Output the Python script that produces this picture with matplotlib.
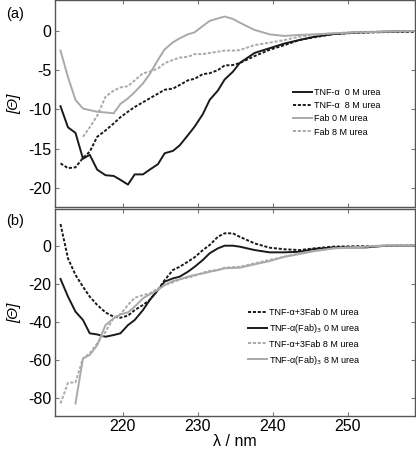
import matplotlib
matplotlib.use("Agg")
import matplotlib.pyplot as plt

plt.rcParams['font.family'] = ['Liberation Sans', 'DejaVu Sans']
plt.rcParams['axes.unicode_minus'] = False

# ---- data: panel (a) ----
lam_a = [211.7, 212.7, 213.7, 214.7, 215.6, 216.6, 217.7, 218.8, 219.7, 220.7,
         221.6, 222.7, 223.6, 224.7, 225.6, 226.7, 227.6, 228.7, 229.6, 230.7,
         231.6, 232.7, 233.6, 234.7, 235.6, 237.6, 239.6, 241.6, 243.6, 245.6,
         248.1, 250.8, 254.8, 259.0]
tnf_0m = [-9.6, -12.3, -13.0, -16.3, -15.8, -17.7, -18.4, -18.5, -19.0, -19.6,
          -18.3, -18.3, -17.7, -17.0, -15.6, -15.3, -14.6, -13.3, -12.2, -10.6,
          -8.8, -7.6, -6.2, -5.2, -4.1, -2.8, -2.2, -1.6, -1.15, -0.73,
          -0.4, -0.2, -0.1, 0.0]
tnf_8m = [-16.9, -17.5, -17.4, -16.2, -15.4, -13.5, -12.7, -11.8, -11.0, -10.3,
          -9.7, -9.1, -8.6, -8.0, -7.5, -7.35, -6.9, -6.3, -6.1, -5.5,
          -5.4, -5.0, -4.4, -4.35, -4.1, -3.2, -2.4, -1.8, -1.15, -0.8,
          -0.4, -0.25, -0.15, -0.1]
fab_0m = [-2.5, -5.9, -8.8, -9.9, -10.1, -10.3, -10.4, -10.5, -9.3, -8.6,
          -7.8, -6.7, -5.5, -3.7, -2.35, -1.45, -0.94, -0.43, -0.17, 0.64,
          1.28, 1.6, 1.84, 1.54, 1.07, 0.13, -0.43, -0.64, -0.5, -0.43,
          -0.3, -0.2, -0.1, 0.0]
lam_a_fab8 = lam_a[3:]
fab_8m = [-13.5, -12.3, -10.8, -8.4, -7.6, -7.2, -7.05,
          -6.3, -5.4, -5.2, -4.8, -4.1, -3.7, -3.4, -3.3, -2.95, -2.95,
          -2.8, -2.65, -2.5, -2.5, -2.45, -1.8, -1.5, -1.15, -0.73, -0.5,
          -0.3, -0.15, -0.05, 0.0]

# ---- data: panel (b) ----
lam_b = [211.7, 212.7, 213.7, 214.7, 215.6, 216.6, 217.7, 218.8, 219.7, 220.7,
         221.6, 222.7, 223.6, 224.7, 225.6, 226.7, 227.6, 228.7, 229.6, 230.7,
         231.6, 232.7, 233.6, 234.7, 235.6, 237.6, 239.6, 241.6, 243.6, 245.6,
         248.1, 252.5, 255.2, 259.0]
tnf3fab_0m = [11.4, -6.7, -15.4, -21.6, -26.8, -31.2, -35.1, -37.4, -37.9, -36.8,
              -33.9, -31.2, -28.6, -23.3, -18.1, -12.8, -11.1, -8.4, -6.1, -2.3,
              0.35, 4.7, 6.5, 6.5, 4.7, 1.2, -1.05, -1.9, -2.3, -1.4,
              -0.5, -0.2, -0.1, 0.0]
tnffab3_0m = [-17.5, -26.8, -34.7, -39.1, -46.1, -46.7, -47.9, -47.0, -46.1, -41.8,
              -39.1, -33.9, -28.6, -23.3, -18.9, -17.2, -16.3, -13.7, -11.1, -7.5,
              -4.0, -1.4, 0.0, 0.0, -0.5, -2.3, -3.5, -3.5, -3.2, -1.75,
              -0.9, -0.9, 0.0, 0.0]
tnf3fab_8m = [-83.0, -72.1, -71.9, -59.3, -56.7, -51.4, -45.3, -37.9, -36.1, -31.2,
              -27.4, -26.0, -25.1, -22.5, -20.7, -19.3, -17.7, -16.8, -15.8, -14.2,
              -13.3, -12.8, -11.6, -11.3, -11.1, -9.3, -7.5, -5.8, -4.0, -2.8,
              -1.4, -0.5, 0.35, 0.0]
lam_b_fab8 = lam_b[2:]
tnffab3_8m = [-83.0, -59.3, -57.5, -52.3, -41.8, -38.2, -36.1, -35.1,
              -32.1, -27.7, -25.6, -23.3, -20.7, -18.6, -17.7, -16.3, -15.4, -14.6,
              -13.7, -12.8, -11.9, -11.7, -11.6, -9.8, -8.1, -5.8, -4.4, -2.8,
              -1.4, -0.5, 0.0, 0.0]

xticks = [220, 230, 240, 250]
yticks_a = [0, -5, -10, -15, -20]
yticks_b = [0, -20, -40, -60, -80]

BLACK = '#1a1a1a'
GRAY = '#a9a9a9'
DASH = (0, (1.6, 0.9))

fig = plt.figure(figsize=(4.16, 4.49), dpi=100)
W, H = 416, 449
axa = fig.add_axes([54.5 / W, 1 - 207 / H, 360.5 / W, 207 / H])
axb = fig.add_axes([54.5 / W, 1 - 416 / H, 360.5 / W, 207 / H])

lw = 1.4
axa.plot(lam_a, tnf_0m, color=BLACK, lw=lw, label='TNF-α  0 M urea')
axa.plot(lam_a, tnf_8m, color=BLACK, lw=lw, ls=DASH, label='TNF-α  8 M urea')
axa.plot(lam_a, fab_0m, color=GRAY, lw=lw, label='Fab 0 M urea')
axa.plot(lam_a_fab8, fab_8m, color=GRAY, lw=lw, ls=DASH, label='Fab 8 M urea')

axb.plot(lam_b, tnf3fab_0m, color=BLACK, lw=lw, ls=DASH, label='TNF-α+3Fab 0 M urea')
axb.plot(lam_b, tnffab3_0m, color=BLACK, lw=lw, label='TNF-α(Fab)$_3$ 0 M urea')
axb.plot(lam_b, tnf3fab_8m, color=GRAY, lw=lw, ls=DASH, label='TNF-α+3Fab 8 M urea')
axb.plot(lam_b_fab8, tnffab3_8m, color=GRAY, lw=lw, label='TNF-α(Fab)$_3$ 8 M urea')

axa.set_xlim(210.9, 259.0)
axb.set_xlim(210.9, 259.0)
axa.set_ylim(-22.46, 3.95)
axb.set_ylim(-89.6, 19.3)

for ax, yt in ((axa, yticks_a), (axb, yticks_b)):
    ax.set_xticks(xticks)
    ax.set_yticks(yt)
    ax.tick_params(direction='in', length=3, width=0.8, color='#777777',
                   top=True, right=True, labelsize=11.5, pad=2.5)
    for s in ax.spines.values():
        s.set_color('#555555')
        s.set_linewidth(1.0)
    ax.set_ylabel('[Θ]', fontsize=11, style='italic', labelpad=5)

axa.tick_params(labelbottom=False)
axb.set_xlabel('λ / nm', fontsize=11.5, labelpad=0)

axa.legend(loc='upper left', bbox_to_anchor=(0.648, 0.595), frameon=False,
           fontsize=6.5, borderpad=0, handlelength=2.1, handletextpad=0.25,
           labelspacing=0.45)
axb.legend(loc='upper left', bbox_to_anchor=(0.525, 0.545), frameon=False,
           fontsize=6.5, borderpad=0, handlelength=2.1, handletextpad=0.25,
           labelspacing=0.55)

fig.text(15 / W, 1 - 14 / H, '(a)', fontsize=10.5, ha='center', va='center')
fig.text(15 / W, 1 - 221 / H, '(b)', fontsize=10.5, ha='center', va='center')

fig.savefig('out.png', dpi=100)
